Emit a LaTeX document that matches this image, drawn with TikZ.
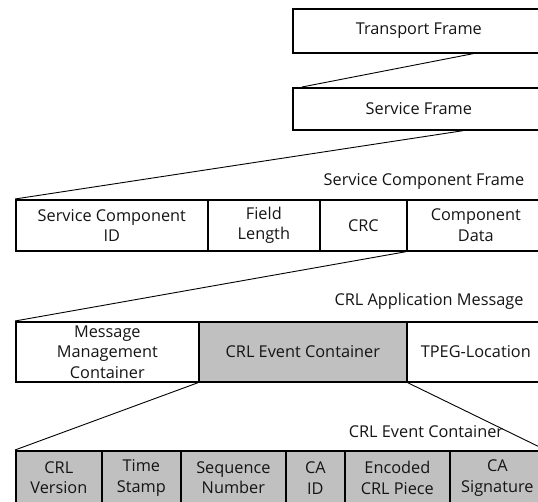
\documentclass[tikz,border=0pt]{standalone}
\usepackage{fontspec}
\setmainfont{Open Sans}
\definecolor{fillgrey}{RGB}{192,192,192}
\definecolor{txt}{RGB}{20,20,20}
\begin{document}
\begin{tikzpicture}[x=1pt,y=-1pt,
  fbox/.style={draw, line width=1.7pt, anchor=north west, inner sep=0pt, align=center,
    text=txt, font=\fontsize{16.3}{20.5}\selectfont},
  gbox/.style={fbox, fill=fillgrey},
  lbl/.style={text=txt, inner sep=0pt, font=\fontsize{16.3}{20.5}\selectfont},
  conn/.style={draw, line width=0.9pt}]
\useasboundingbox (0,0) rectangle (538,502);
% row 1
\node[fbox, minimum width=252pt, minimum height=44pt] (trans) at (292,8) {Transport Frame};
% row 2
\node[fbox, minimum width=252pt, minimum height=42pt] (serv) at (292,87) {Service Frame};
% row 3
\node[lbl] (lsc) at (424,181) {Service Component Frame};
\node[fbox, minimum width=192pt, minimum height=51pt] (sc1) at (15,199) {Service Component\\ID};
\node[fbox, minimum width=112pt, minimum height=51pt] (sc2) at (207,199) {Field\\Length};
\node[fbox, minimum width=87pt, minimum height=51pt] (sc3) at (319,199) {CRC};
\node[fbox, minimum width=138pt, minimum height=51pt] (sc4) at (406,199) {Component\\Data};
% row 4
\node[lbl] (lam) at (429,301) {CRL Application Message};
\node[fbox, minimum width=183pt, minimum height=60pt] (mm) at (15,321) {Message\\Management\\Container};
\node[gbox, minimum width=208pt, minimum height=60pt] (ev) at (198,321) {CRL Event Container};
\node[fbox, minimum width=138pt, minimum height=60pt] (tpeg) at (406,321) {TPEG-Location};
% row 5
\node[lbl] (lev) at (426,432) {CRL Event Container};
\node[gbox, minimum width=86pt, minimum height=54pt] (b1) at (15,450) {CRL\\Version};
\node[gbox, minimum width=79pt, minimum height=54pt] (b2) at (101,450) {Time\\Stamp};
\node[gbox, minimum width=105pt, minimum height=54pt] (b3) at (180,450) {Sequence\\Number};
\node[gbox, minimum width=59pt, minimum height=54pt] (b4) at (285,450) {CA\\ID};
\node[gbox, minimum width=105pt, minimum height=54pt] (b5) at (344,450) {Encoded\\CRL Piece};
\node[gbox, minimum width=95pt, minimum height=54pt] (b6) at (449,450) {CA\\Signature};
% connectors
\draw[conn] ([xshift=181pt]trans.south west) -- ([xshift=10pt]serv.north west);
\draw[conn] ([xshift=171pt]serv.south west) -- (sc1.north west);
\draw[conn] (sc4.south west) -- (mm.north west);
\draw[conn] (ev.south west) -- (b1.north west);
\draw[conn] (ev.south east) -- (b6.north east);
\end{tikzpicture}
\end{document}
